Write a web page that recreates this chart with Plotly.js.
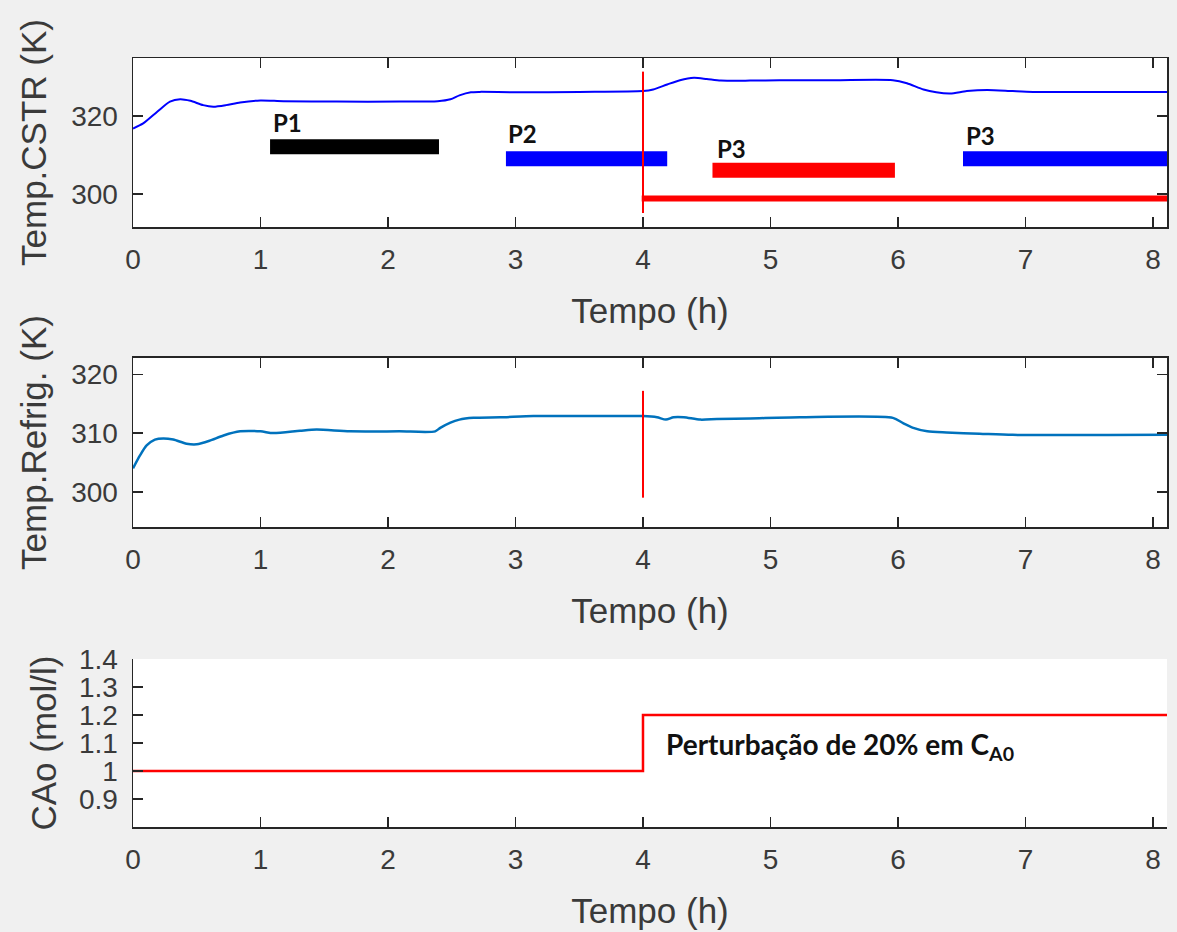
<!DOCTYPE html>
<html>
<head>
<meta charset="utf-8">
<script src="https://cdn.plot.ly/plotly-3.0.1.min.js"></script>
<style>html,body{margin:0;padding:0;background:#f0f0f0;}#chart{width:1177px;height:932px;}</style>
</head>
<body>
<div id="chart"></div>
<script>
// ---- Panel 1: reactor temperature (K) ----
const tCSTR = [0, 0.08, 0.19, 0.29, 0.37, 0.45, 0.55, 0.63, 0.73, 0.84, 1.0, 1.18, 1.6, 2.09, 2.39, 2.49, 2.56, 2.65, 2.72, 3.0, 3.5, 4.0, 4.08, 4.19, 4.29, 4.40, 4.50, 4.61, 4.84, 5.07, 5.5, 5.96, 6.07, 6.20, 6.30, 6.41, 6.54, 6.70, 6.90, 7.06, 7.6, 8.11];
const TCSTR = [316.8, 318.1, 321.1, 323.7, 324.3, 323.9, 322.8, 322.4, 322.8, 323.5, 324.0, 323.8, 323.7, 323.7, 323.8, 324.3, 325.3, 326.1, 326.2, 326.1, 326.2, 326.4, 326.8, 328.1, 329.2, 329.8, 329.5, 329.1, 329.1, 329.2, 329.2, 329.2, 328.4, 326.8, 326.1, 325.8, 326.4, 326.7, 326.4, 326.2, 326.2, 326.2];

// ---- Panel 2: coolant temperature (K) ----
const tRefrig = [0, 0.055, 0.107, 0.172, 0.238, 0.316, 0.42, 0.5, 0.60, 0.71, 0.84, 1.0, 1.10, 1.31, 1.44, 1.70, 2.09, 2.37, 2.41, 2.49, 2.56, 2.67, 2.88, 3.14, 3.40, 4.0, 4.11, 4.18, 4.24, 4.32, 4.45, 4.58, 4.84, 5.23, 5.96, 6.04, 6.12, 6.23, 6.38, 6.64, 6.90, 8.11];
const TRefrig = [304.0, 306.2, 307.9, 308.9, 309.1, 308.9, 308.2, 308.1, 308.7, 309.6, 310.3, 310.3, 310.0, 310.4, 310.6, 310.3, 310.3, 310.3, 310.9, 311.8, 312.3, 312.6, 312.7, 312.9, 312.9, 312.9, 312.7, 312.3, 312.7, 312.7, 312.3, 312.4, 312.5, 312.7, 312.6, 311.7, 310.9, 310.3, 310.1, 309.9, 309.7, 309.7];

// ---- Panel 3: feed concentration CA0 (mol/l) ----
const tCA0 = [0, 4.0, 4.0, 8.11];
const CA0 = [1.0, 1.0, 1.2, 1.2];

// ---- Operating-period bars in panel 1 ----
const barNames = ["P1", "P2", "P3", "P3"];
const barStart = [1.075, 2.925, 4.545, 6.51];
const barEnd = [2.40, 4.19, 5.976, 8.11];
const barLevel = [312.1, 309.0, 306.1, 309.0];
const barColors = ["#000000", "#0000ff", "#ff0000", "#0000ff"];
const labelX = [1.082, 2.925, 4.565, 6.52];
const labelY = [318.4, 315.6, 311.7, 314.9];

// disturbance markers
const distT = 4.0;
const distLineStart = 3.99, distLineEnd = 8.11, distLineLevel = 298.8;
const vline1 = [295.1, 331.4];
const vline2 = [299.0, 317.2];

// axis ticks
const xTicks = [0, 1, 2, 3, 4, 5, 6, 7, 8];
const y1Ticks = [300, 320];
const y2Ticks = [300, 310, 320];
const y3Ticks = [0.9, 1.0, 1.1, 1.2, 1.3, 1.4];
const y3TickText = ["0.9", "1", "1.1", "1.2", "1.3", "1.4"];

const annText = "Perturbação de 20% em C<sub>A0</sub>";
const annX = 4.165, annY = 1.09;

const axisColor = "#262626";
const tickFont = {family: "Liberation Sans, Arial, sans-serif", size: 28, color: "#3a3a3a"};
const titleFont = {family: "Liberation Sans, Arial, sans-serif", size: 35, color: "#3a3a3a"};

const traces = [];
traces.push({x: tCSTR, y: TCSTR, xaxis: "x", yaxis: "y", mode: "lines", line: {color: "#0000ff", width: 2, shape: "spline", smoothing: 0.7}, hoverinfo: "skip"});
for (let i = 0; i < barNames.length; i++) {
  traces.push({x: [barStart[i], barEnd[i]], y: [barLevel[i], barLevel[i]], xaxis: "x", yaxis: "y", mode: "lines", line: {color: barColors[i], width: 15}, hoverinfo: "skip"});
}
traces.push({x: [distLineStart, distLineEnd], y: [distLineLevel, distLineLevel], xaxis: "x", yaxis: "y", mode: "lines", line: {color: "#ff0000", width: 6}, hoverinfo: "skip"});
traces.push({x: [distT, distT], y: vline1, xaxis: "x", yaxis: "y", mode: "lines", line: {color: "#ff0000", width: 2}, hoverinfo: "skip"});

traces.push({x: tRefrig, y: TRefrig, xaxis: "x2", yaxis: "y2", mode: "lines", line: {color: "#0072BD", width: 2.5, shape: "spline", smoothing: 0.7}, hoverinfo: "skip"});
traces.push({x: [distT, distT], y: vline2, xaxis: "x2", yaxis: "y2", mode: "lines", line: {color: "#ff0000", width: 2}, hoverinfo: "skip"});

traces.push({x: tCA0, y: CA0, xaxis: "x3", yaxis: "y3", mode: "lines", line: {color: "#ff0000", width: 2.5}, hoverinfo: "skip"});

function xAxis(anchor, mirror) {
  return {
    anchor: anchor, domain: [0, 1], range: [0, 8.11], tickvals: xTicks,
    ticks: "inside", ticklen: 10, tickwidth: 1.5, tickcolor: axisColor,
    showline: true, linecolor: axisColor, linewidth: 1.5, mirror: mirror,
    showgrid: false, zeroline: false, tickfont: tickFont, ticklabelstandoff: 7,
    title: {text: "Tempo (h)", font: titleFont, standoff: 24}
  };
}
function yAxis(anchor, domain, range, tickvals, title, mirror, ticktext, standoff) {
  const a = {
    anchor: anchor, domain: domain, range: range, tickvals: tickvals,
    ticks: "inside", ticklen: 10, tickwidth: 1.5, tickcolor: axisColor,
    showline: true, linecolor: axisColor, linewidth: 1.5, mirror: mirror,
    showgrid: false, zeroline: false, tickfont: tickFont, ticklabelstandoff: 8,
    title: {text: title, font: titleFont, standoff: standoff}
  };
  if (ticktext) a.ticktext = ticktext;
  return a;
}

const layout = {
  width: 1177, height: 932,
  paper_bgcolor: "#f0f0f0", plot_bgcolor: "#ffffff",
  margin: {l: 133, r: 10, t: 58, b: 105},
  showlegend: false,
  xaxis: xAxis("y", "ticks"),
  xaxis2: xAxis("y2", "ticks"),
  xaxis3: xAxis("y3", false),
  yaxis: yAxis("x", [0.7802, 1], [291.5, 334.9], y1Ticks, "Temp.CSTR (K)", "ticks", null, 14),
  yaxis2: yAxis("x2", [0.3901, 0.6099], [294.0, 322.8], y2Ticks, "Temp.Refrig. (K)", "ticks", null, 14),
  yaxis3: yAxis("x3", [0, 0.2185], [0.8, 1.4], y3Ticks, "CAo (mol/l)", false, y3TickText, 11),
  annotations: []
};
for (let i = 0; i < barNames.length; i++) {
  layout.annotations.push({x: labelX[i], y: labelY[i], xref: "x", yref: "y", text: "<b>" + barNames[i] + "</b>", showarrow: false, xanchor: "left", yanchor: "middle", font: {family: "Lato, sans-serif", size: 24, color: "#111111"}});
}
layout.annotations.push({x: annX, y: annY, xref: "x3", yref: "y3", text: "<b>" + annText + "</b>", showarrow: false, xanchor: "left", yanchor: "middle", font: {family: "Lato, sans-serif", size: 28, color: "#111111"}});

Plotly.newPlot("chart", traces, layout, {staticPlot: true, displayModeBar: false});
</script>
</body>
</html>
